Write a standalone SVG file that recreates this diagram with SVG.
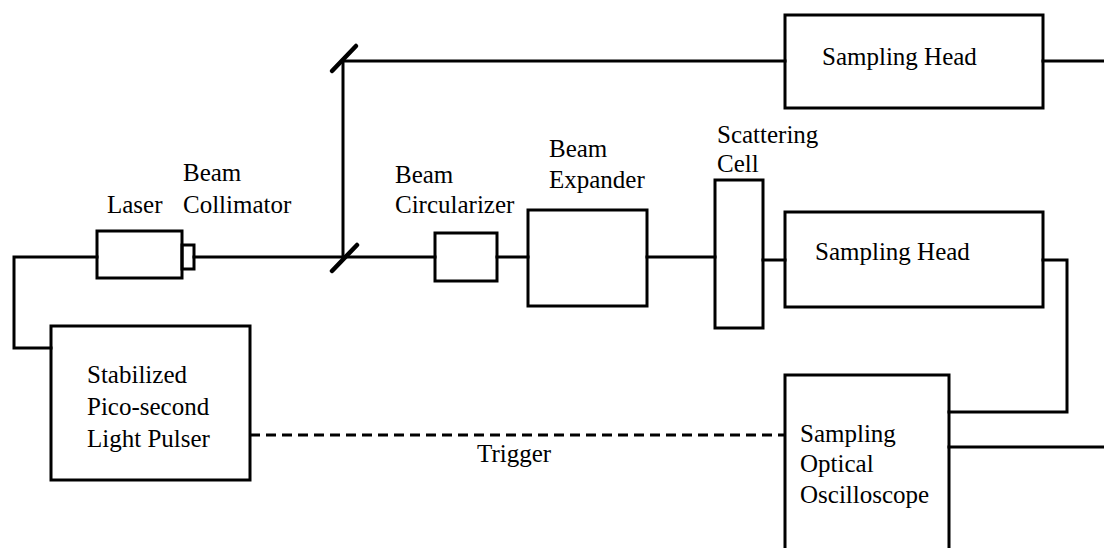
<svg xmlns="http://www.w3.org/2000/svg" width="1104" height="548" viewBox="0 0 1104 548">
<style>
.b{fill:none;stroke:#000;stroke-width:3}
.l{fill:none;stroke:#000;stroke-width:3;stroke-linecap:square}
.d{fill:none;stroke:#000;stroke-width:3;stroke-dasharray:10 6}
.m{stroke:#000;stroke-width:4.5;stroke-linecap:round}
.t{font-family:'Liberation Serif','Times New Roman',serif;font-size:25px;fill:#000}
</style>
<rect width="1104" height="548" fill="#fff"/>
<g id="connectors">
<polyline class="l" points="97,257 14,257 14,348 51,348"/>
<line class="l" x1="194" y1="257" x2="435" y2="257"/>
<line class="l" x1="343" y1="257" x2="343" y2="61"/>
<line class="l" x1="343" y1="61" x2="785" y2="61"/>
<line class="l" x1="1043" y1="61" x2="1104" y2="61"/>
<line class="l" x1="497" y1="257" x2="528" y2="257"/>
<line class="l" x1="647" y1="257" x2="715" y2="257"/>
<line class="l" x1="763" y1="260" x2="785" y2="260"/>
<polyline class="l" points="1043,260 1067,260 1067,412 949,412"/>
<line class="l" x1="949" y1="447" x2="1104" y2="447"/>
<line class="d" x1="250" y1="435" x2="785" y2="435"/>
<line class="m" x1="332" y1="271" x2="357" y2="245"/>
<line class="m" x1="332" y1="71" x2="356" y2="46"/>
</g>
<g id="laser"><rect class="b" x="97" y="231" width="85" height="47"/><text class="t" x="107" y="213">Laser</text></g>
<g id="collimator"><rect class="b" x="182" y="245" width="12" height="24"/><text class="t" x="183" y="181">Beam</text><text class="t" x="183" y="213">Collimator</text></g>
<g id="pulser"><rect class="b" x="51" y="326" width="199" height="154"/><text class="t" x="87" y="383">Stabilized</text><text class="t" x="87" y="415">Pico-second</text><text class="t" x="87" y="447">Light Pulser</text></g>
<g id="circularizer"><rect class="b" x="435" y="233" width="62" height="48"/><text class="t" x="395" y="183">Beam</text><text class="t" x="395" y="213">Circularizer</text></g>
<g id="expander"><rect class="b" x="528" y="210" width="119" height="96"/><text class="t" x="549" y="157">Beam</text><text class="t" x="549" y="188">Expander</text></g>
<g id="cell"><rect class="b" x="715" y="180" width="48" height="148"/><text class="t" x="717" y="143">Scattering</text><text class="t" x="717" y="172">Cell</text></g>
<g id="head1"><rect class="b" x="785" y="15" width="258" height="93"/><text class="t" x="822" y="65">Sampling Head</text></g>
<g id="head2"><rect class="b" x="785" y="212" width="258" height="95"/><text class="t" x="815" y="260">Sampling Head</text></g>
<g id="scope"><polyline class="b" points="785,550 785,375 949,375 949,550"/><text class="t" x="800" y="442">Sampling</text><text class="t" x="800" y="472">Optical</text><text class="t" x="800" y="503">Oscilloscope</text></g>
<g id="trigger"><text class="t" x="477" y="462">Trigger</text></g>
</svg>
